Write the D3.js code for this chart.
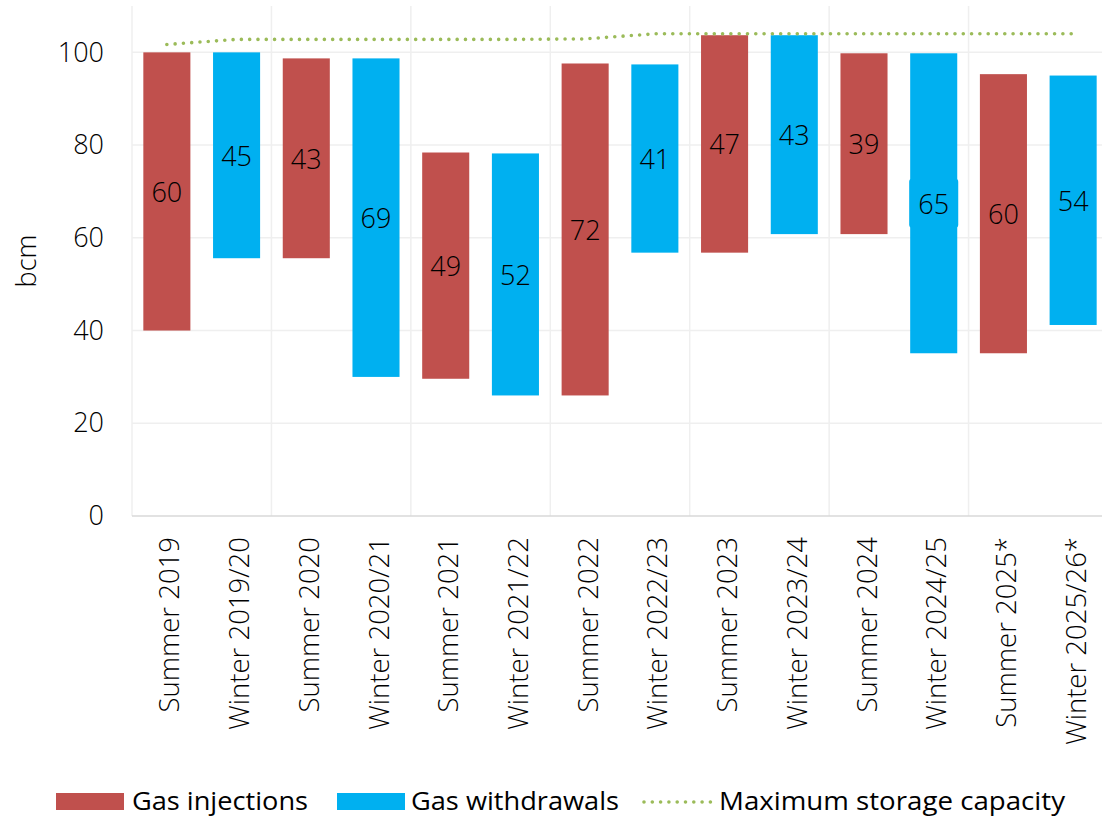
<!DOCTYPE html>
<html>
<head>
<meta charset="utf-8">
<script src="https://cdn.jsdelivr.net/npm/d3@7"></script>
<style>
  body { margin: 0; background: #fff; }
  svg { display: block; font-family: "Open Sans", "Noto Sans", sans-serif; }
</style>
</head>
<body>
<svg width="1102" height="817"></svg>
<script>
var width = 1102;
var height = 817;

// chart values
var categories = ['Summer 2019', 'Winter 2019/20', 'Summer 2020', 'Winter 2020/21', 'Summer 2021', 'Winter 2021/22', 'Summer 2022',
  'Winter 2022/23', 'Summer 2023', 'Winter 2023/24', 'Summer 2024', 'Winter 2024/25', 'Summer 2025*', 'Winter 2025/26*'];
var flowType = ['inj', 'wd', 'inj', 'wd', 'inj', 'wd', 'inj', 'wd', 'inj', 'wd', 'inj', 'wd', 'inj', 'wd'];
var lows = [40, 55.6, 55.6, 30, 29.6, 26, 26, 56.8, 56.8, 60.8, 60.8, 35.1, 35.1, 41.2];
var highs = [100, 100, 98.7, 98.7, 78.4, 78.2, 97.6, 97.4, 103.7, 103.7, 99.8, 99.8, 95.3, 95.0];
var volumes = [60, 45, 43, 69, 49, 52, 72, 41, 47, 43, 39, 65, 60, 54];
var capacity = [101.7, 102.8, 102.8, 102.8, 102.8, 102.8, 102.9, 104.0, 104.0, 104.0, 104.0, 104.0, 104.0, 104.0];
var yTicks = [0, 20, 40, 60, 80, 100];
var legendItems = ['Gas injections', 'Gas withdrawals', 'Maximum storage capacity'];

var colors = { inj: '#c0504d', wd: '#00b0f0', cap: '#9bbb59' };
var textColor = '#000';
var boxedLabel = 'Winter 2024/25';

var data = categories.map(function(c, i) {
  return { cat: c, type: flowType[i], low: lows[i], high: highs[i], vol: volumes[i], cap: capacity[i] };
});

var x = d3.scaleBand()
  .domain(categories)
  .range([132, 1108])
  .paddingInner(0.325)
  .paddingOuter(0.1625);

var y = d3.scaleLinear()
  .domain([0, 110])
  .range([516, 6]);

var svg = d3.select('svg');

// horizontal gridlines
svg.append('g').selectAll('line').data(yTicks.slice(1)).enter()
  .append('line')
  .attr('x1', 132).attr('x2', width)
  .attr('y1', function(d) { return y(d); })
  .attr('y2', function(d) { return y(d); })
  .attr('stroke', '#efefef')
  .attr('stroke-width', 1.5);

// vertical gridlines, every second category boundary
var step = x.step();
var boundaries = d3.range(0, categories.length, 2).map(function(i) { return 132 + i * step; });
svg.append('g').selectAll('line').data(boundaries).enter()
  .append('line')
  .attr('x1', function(d) { return d; })
  .attr('x2', function(d) { return d; })
  .attr('y1', 6).attr('y2', 516)
  .attr('stroke', '#efefef')
  .attr('stroke-width', 1.5);

// y axis labels
var yAxis = d3.axisLeft(y).tickValues(yTicks).tickSize(0).tickPadding(0);
var yg = svg.append('g').attr('transform', 'translate(104,0)').call(yAxis);
yg.select('.domain').remove();
yg.selectAll('text')
  .attr('font-size', 27)
  .attr('font-family', '"Open Sans", sans-serif')
  .attr('font-weight', 300)
  .attr('fill', textColor);

svg.append('text')
  .attr('transform', 'translate(36,261) rotate(-90)')
  .attr('text-anchor', 'middle')
  .attr('font-size', 27)
  .attr('font-weight', 300)
  .attr('fill', textColor)
  .text('bcm');

// x axis
var xAxis = d3.axisBottom(x).tickSize(0).tickPadding(0);
var xg = svg.append('g').attr('transform', 'translate(0,516)').call(xAxis);
xg.select('.domain').remove();
xg.selectAll('text')
  .attr('font-size', 27.5)
  .attr('font-family', '"Open Sans", sans-serif')
  .attr('font-weight', 300)
  .attr('fill', textColor)
  .attr('text-anchor', 'end')
  .attr('dy', null)
  .attr('y', null)
  .attr('dominant-baseline', 'central')
  .attr('transform', 'translate(2,21) rotate(-90)');

svg.append('line')
  .attr('x1', 132).attr('x2', width)
  .attr('y1', 516).attr('y2', 516)
  .attr('stroke', '#d9d9d9')
  .attr('stroke-width', 1.5);

// floating bars
svg.append('g').selectAll('rect').data(data).enter()
  .append('rect')
  .attr('x', function(d) { return x(d.cat); })
  .attr('width', x.bandwidth())
  .attr('y', function(d) { return y(d.high); })
  .attr('height', function(d) { return y(d.low) - y(d.high); })
  .attr('fill', function(d) { return colors[d.type]; });

// capacity line
var line = d3.line()
  .x(function(d) { return x(d.cat) + x.bandwidth() / 2; })
  .y(function(d) { return y(d.cap); });

svg.append('path')
  .datum(data)
  .attr('d', line)
  .attr('fill', 'none')
  .attr('stroke', colors.cap)
  .attr('stroke-width', 3.6)
  .attr('stroke-linecap', 'round')
  .attr('stroke-dasharray', '0 8.3');

// value labels
var labels = svg.append('g');
labels.selectAll('rect').data(data.filter(function(d) { return d.cat === boxedLabel; })).enter()
  .append('rect')
  .attr('x', function(d) { return x(d.cat) - 1; })
  .attr('width', x.bandwidth() + 2)
  .attr('y', function(d) { return (y(d.high) + y(d.low)) / 2 - 24.5; })
  .attr('height', 49)
  .attr('rx', 3)
  .attr('fill', function(d) { return colors[d.type]; });

labels.selectAll('text').data(data).enter()
  .append('text')
  .attr('x', function(d) { return x(d.cat) + x.bandwidth() / 2; })
  .attr('y', function(d) { return (y(d.high) + y(d.low)) / 2; })
  .attr('text-anchor', 'middle')
  .attr('dominant-baseline', 'central')
  .attr('font-size', 27)
  .attr('font-weight', 300)
  .attr('fill', textColor)
  .text(function(d) { return d.vol; });

// legend
var legend = svg.append('g').attr('transform', 'translate(0,801)');
var legendX = [56, 337, 643];
var textX = [132, 411, 719];
var textLen = [176, 208, 346];

legend.selectAll('rect').data(legendItems.slice(0, 2)).enter()
  .append('rect')
  .attr('x', function(d, i) { return legendX[i]; })
  .attr('y', -8)
  .attr('width', 68)
  .attr('height', 17)
  .attr('fill', function(d, i) { return i === 0 ? colors.inj : colors.wd; });

legend.append('line')
  .attr('x1', legendX[2] + 1).attr('x2', legendX[2] + 69)
  .attr('y1', 1).attr('y2', 1)
  .attr('stroke', colors.cap)
  .attr('stroke-width', 3.6)
  .attr('stroke-linecap', 'round')
  .attr('stroke-dasharray', '0 8.3');

legend.selectAll('text').data(legendItems).enter()
  .append('text')
  .attr('x', function(d, i) { return textX[i]; })
  .attr('y', 9)
  .attr('font-size', 25)
  .attr('fill', textColor)
  .attr('textLength', function(d, i) { return textLen[i]; })
  .attr('lengthAdjust', 'spacingAndGlyphs')
  .text(function(d) { return d; });
</script>
</body>
</html>
